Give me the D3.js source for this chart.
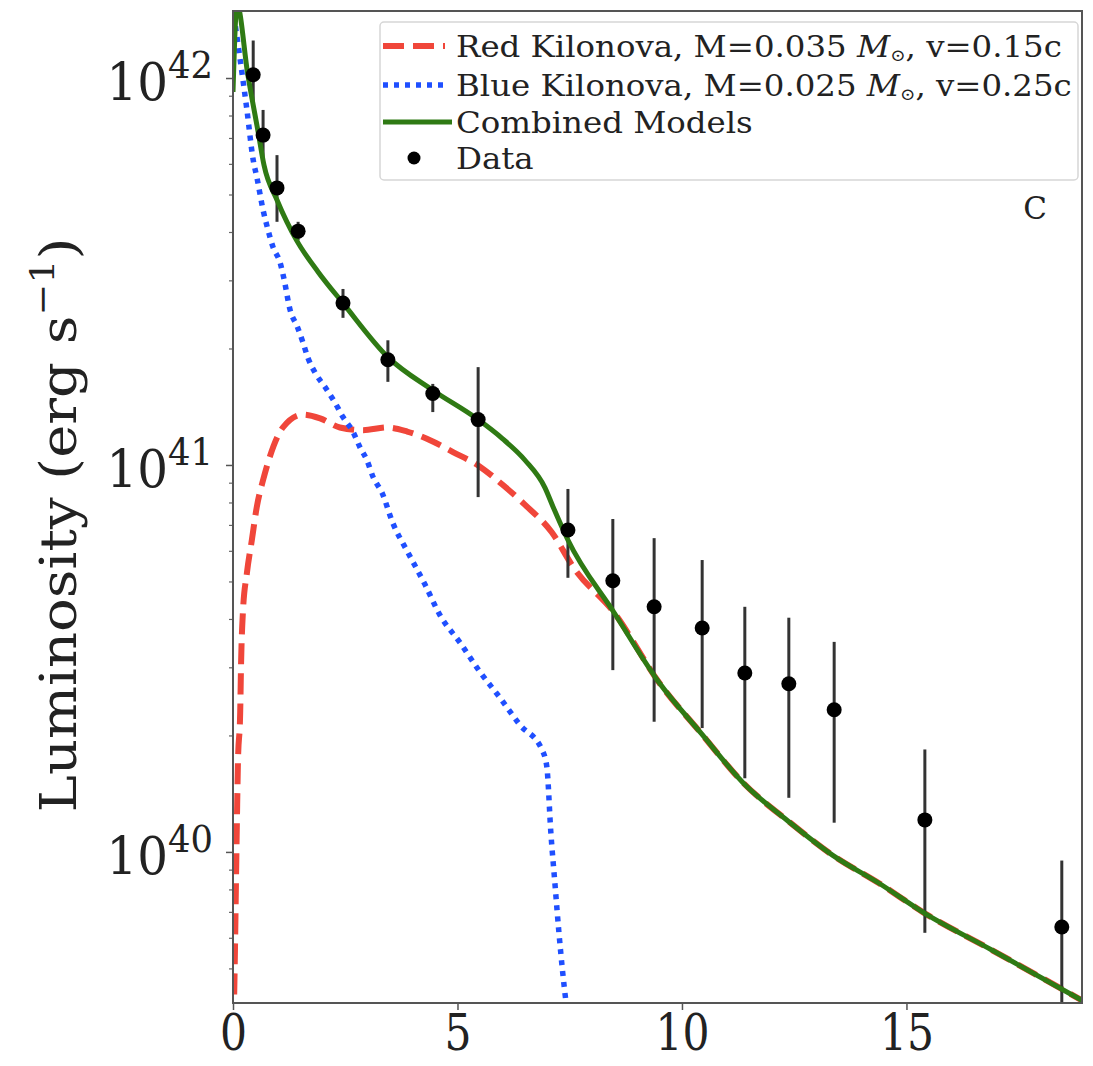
<!DOCTYPE html>
<html>
<head>
<meta charset="utf-8">
<script src="https://cdn.jsdelivr.net/npm/d3@7"></script>
<style>
  body { margin: 0; background: #fff; }
  text { font-family: "DejaVu Serif", serif; fill: #222; }
</style>
</head>
<body>
<div id="chart"></div>
<script>
// time since merger (days) and luminosity (erg/s)
const redT = [0, 0.045, 0.067, 0.09, 0.11, 0.16, 0.18, 0.22, 0.31, 0.42, 0.53, 0.67, 0.82, 1.11, 1.56, 1.94, 2.38, 2.9, 3.43, 3.88, 4.45, 4.9, 5.5, 6.0, 6.5, 7.1, 7.6, 8.49, 9.49, 10.42, 11.36, 12.41, 13.36, 14.39, 15.39, 16.9, 18.98];
const redL = [3e39, 5.69e39, 8.47e39, 1.26e40, 1.7e40, 2.29e40, 3.08e40, 4.15e40, 5.26e40, 6.4e40, 7.79e40, 9.14e40, 1.05e41, 1.25e41, 1.35e41, 1.32e41, 1.25e41, 1.23e41, 1.25e41, 1.22e41, 1.15e41, 1.08e41, 9.9e40, 8.9e40, 7.9e40, 6.7e40, 5.4e40, 4.15e40, 2.74e40, 2.03e40, 1.51e40, 1.19e40, 9.8e39, 8.3e39, 6.96e39, 5.58e39, 4.09e39];

const blueT = [0.02, 0.31, 0.45, 0.53, 0.67, 0.78, 0.89, 1.05, 1.14, 1.27, 1.43, 1.56, 1.67, 1.83, 2.05, 2.27, 2.45, 2.67, 2.83, 2.98, 3.12, 3.32, 3.56, 3.9, 4.28, 4.61, 5.06, 5.5, 5.95, 6.39, 6.88, 6.99, 7.08, 7.17, 7.26, 7.42, 7.5];
const blueL = [1.45e42, 8.27e41, 6.14e41, 5.55e41, 4.56e41, 4.05e41, 3.66e41, 3.33e41, 3.01e41, 2.52e41, 2.28e41, 2.07e41, 1.89e41, 1.73e41, 1.59e41, 1.45e41, 1.33e41, 1.22e41, 1.11e41, 1.03e41, 9.31e40, 8.47e40, 7.08e40, 5.93e40, 4.9e40, 4.09e40, 3.47e40, 2.92e40, 2.5e40, 2.13e40, 1.84e40, 1.66e40, 1.12e40, 8.3e39, 6.18e39, 4.07e39, 3.5e39];

const greenT = [0, 0.09, 0.33, 0.56, 0.69, 0.98, 1.2, 1.42, 1.9, 2.45, 3.45, 4.45, 5.46, 6.0, 6.5, 6.95, 7.13, 7.46, 8.49, 9.49, 10.42, 11.36, 12.41, 13.36, 14.39, 15.39, 16.9, 18.98];
const greenL = [9.2e41, 1.55e42, 1.02e42, 7.25e41, 5.96e41, 4.84e41, 4.25e41, 3.8e41, 3.15e41, 2.62e41, 1.9e41, 1.56e41, 1.31e41, 1.17e41, 1.03e41, 8.73e40, 7.79e40, 6.4e40, 4.15e40, 2.74e40, 2.03e40, 1.51e40, 1.19e40, 9.8e39, 8.3e39, 6.96e39, 5.58e39, 4.09e39];

const dataT = [0.45, 0.67, 0.98, 1.45, 2.45, 3.45, 4.45, 5.46, 7.46, 8.46, 9.38, 10.45, 11.4, 12.38, 13.39, 15.41, 18.46];
const dataL = [1.02e42, 7.12e41, 5.2e41, 4.02e41, 2.62e41, 1.87e41, 1.53e41, 1.31e41, 6.79e40, 5.02e40, 4.3e40, 3.79e40, 2.9e40, 2.72e40, 2.33e40, 1.21e40, 6.4e39];
const dataHi = [1.25e42, 8.27e41, 6.32e41, 4.25e41, 2.85e41, 2.1e41, 1.62e41, 1.79e41, 8.67e40, 7.25e40, 6.47e40, 5.68e40, 4.3e40, 4.03e40, 3.49e40, 1.84e40, 9.5e39];
const dataLo = [8.5e41, 6.14e41, 4.25e41, 3.81e41, 2.4e41, 1.64e41, 1.37e41, 8.26e40, 5.11e40, 2.95e40, 2.17e40, 2.09e40, 1.55e40, 1.38e40, 1.19e40, 6.18e39, 3.0e39];

const xTicks = [0, 5, 10, 15];
const yTicks = [1e40, 1e41, 1e42];
const legendLabels = [
  ["Red Kilonova, M=0.035 ", "M", "⊙", ", v=0.15c"],
  ["Blue Kilonova, M=0.025 ", "M", "⊙", ", v=0.25c"],
  ["Combined Models"],
  ["Data"]
];

const width = 1093, height = 1066;
const margin = { left: 233, right: 1093 - 1082, top: 11, bottom: 1066 - 1003 };
const kx = 0.85; // glyphs in the figure are narrower than they are tall

const svg = d3.select("#chart").append("svg")
  .attr("width", width).attr("height", height);

const x = d3.scaleLinear().domain([0, 18.91]).range([margin.left, width - margin.right]);
const y = d3.scaleLog().domain([4.07e39, 1.49e42]).range([height - margin.bottom, margin.top]);

svg.append("clipPath").attr("id", "plot-clip")
  .append("rect")
  .attr("x", x.range()[0]).attr("y", y.range()[1])
  .attr("width", x.range()[1] - x.range()[0])
  .attr("height", y.range()[0] - y.range()[1]);

const plot = svg.append("g").attr("clip-path", "url(#plot-clip)");

const line = d3.line().x(d => x(d[0])).y(d => y(d[1])).curve(d3.curveMonotoneX);
const zip = (a, b) => a.map((v, i) => [v, b[i]]);

plot.append("path").datum(zip(redT, redL))
  .attr("d", line).attr("fill", "none")
  .attr("stroke", "#f0463a").attr("stroke-width", 6)
  .attr("stroke-dasharray", "21 9");

plot.append("path").datum(zip(blueT, blueL))
  .attr("d", line).attr("fill", "none")
  .attr("stroke", "#1f4fff").attr("stroke-width", 5.5)
  .attr("stroke-dasharray", "5 6");

// error bars
plot.selectAll(".err").data(dataT).enter().append("line")
  .attr("class", "err")
  .attr("x1", d => x(d)).attr("x2", d => x(d))
  .attr("y1", (d, i) => y(dataLo[i])).attr("y2", (d, i) => y(dataHi[i]))
  .attr("stroke", "#333").attr("stroke-width", 3);

plot.append("path").datum(zip(greenT, greenL))
  .attr("d", line).attr("fill", "none")
  .attr("stroke", "#2f7a14").attr("stroke-width", 5);

plot.selectAll(".pt").data(dataT).enter().append("circle")
  .attr("class", "pt")
  .attr("cx", d => x(d)).attr("cy", (d, i) => y(dataL[i]))
  .attr("r", 7.5).attr("fill", "#000");

// axes
const xAxis = svg.append("g")
  .attr("transform", `translate(0,${y.range()[0]})`)
  .call(d3.axisBottom(x).tickValues(xTicks).tickSize(7).tickPadding(4).tickFormat(d3.format("d")));
xAxis.select(".domain").remove();
xAxis.selectAll(".tick line").attr("stroke", "#555").attr("stroke-width", 1.5);
xAxis.selectAll(".tick text")
  .attr("font-size", 50).attr("font-family", "DejaVu Serif")
  .attr("fill", "#222").attr("dy", "0.72em")
  .attr("transform", `scale(${kx},1)`);

const minor = [];
for (let e = 39; e <= 42; e++) for (let m = 2; m <= 9; m++) {
  const v = m * Math.pow(10, e);
  if (v >= y.domain()[0] && v <= y.domain()[1]) minor.push(v);
}
const yMinor = svg.append("g")
  .attr("transform", `translate(${x.range()[0]},0)`)
  .call(d3.axisLeft(y).tickValues(minor).tickSize(4).tickFormat(""));
yMinor.select(".domain").remove();
yMinor.selectAll(".tick line").attr("stroke", "#666").attr("stroke-width", 1.2);

const yAxis = svg.append("g")
  .attr("transform", `translate(${x.range()[0]},0)`)
  .call(d3.axisLeft(y).tickValues(yTicks).tickSize(7).tickFormat(""));
yAxis.select(".domain").remove();
yAxis.selectAll(".tick line").attr("stroke", "#555").attr("stroke-width", 1.5);

yTicks.forEach(v => {
  const t = svg.append("text")
    .attr("transform", `translate(${x.range()[0] - 20},${y(v) + 22}) scale(0.93,1)`)
    .attr("text-anchor", "end").attr("font-size", 52);
  t.append("tspan").text("10");
  t.append("tspan").attr("font-size", 38).attr("dy", -22).text(Math.round(Math.log10(v)));
});

// frame
svg.append("rect")
  .attr("x", x.range()[0]).attr("y", y.range()[1])
  .attr("width", x.range()[1] - x.range()[0])
  .attr("height", y.range()[0] - y.range()[1])
  .attr("fill", "none").attr("stroke", "#555").attr("stroke-width", 2);

// axis label
const yl = svg.append("text")
  .attr("transform", `translate(76,525) scale(0.9,1) rotate(-90)`)
  .attr("text-anchor", "middle").attr("font-size", 56);
yl.append("tspan").text("Luminosity (erg s");
yl.append("tspan").attr("font-size", 38).attr("dy", -24).text("−1");
yl.append("tspan").attr("dy", 24).text(")");

// panel letter
svg.append("text")
  .attr("x", 1035).attr("y", 219)
  .attr("text-anchor", "middle").attr("font-size", 31).attr("fill", "#333")
  .text("C");

// legend
const lg = svg.append("g");
lg.append("rect")
  .attr("x", 380).attr("y", 22).attr("width", 698).attr("height", 158)
  .attr("rx", 4).attr("fill", "#fff").attr("fill-opacity", 0.85)
  .attr("stroke", "#d6d6d6").attr("stroke-width", 1.5);

const rowY = [46, 85, 122, 158];
lg.append("line").attr("x1", 383).attr("x2", 445).attr("y1", rowY[0]).attr("y2", rowY[0])
  .attr("stroke", "#f0463a").attr("stroke-width", 6).attr("stroke-dasharray", "21 9");
lg.append("line").attr("x1", 383).attr("x2", 445).attr("y1", rowY[1]).attr("y2", rowY[1])
  .attr("stroke", "#1f4fff").attr("stroke-width", 5.5).attr("stroke-dasharray", "5 6");
lg.append("line").attr("x1", 383).attr("x2", 452).attr("y1", rowY[2]).attr("y2", rowY[2])
  .attr("stroke", "#2f7a14").attr("stroke-width", 5);
lg.append("circle").attr("cx", 414).attr("cy", rowY[3]).attr("r", 6.5).attr("fill", "#000");

legendLabels.forEach((parts, i) => {
  const t = lg.append("text")
    .attr("transform", `translate(456,${rowY[i] + 11}) scale(1.08,1)`)
    .attr("font-size", 30);
  t.append("tspan").text(parts[0]);
  if (parts.length > 1) {
    t.append("tspan").attr("font-style", "italic").text(parts[1]);
    t.append("tspan").attr("font-size", 17).attr("dy", 4).text(parts[2]);
    t.append("tspan").attr("dy", -4).text(parts[3]);
  }
});
</script>
</body>
</html>
